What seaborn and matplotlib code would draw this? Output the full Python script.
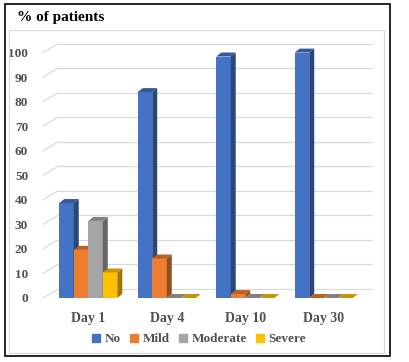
import pandas as pd
import seaborn as sns
import numpy as np
import matplotlib.pyplot as plt
from matplotlib.patches import Polygon, Rectangle
from matplotlib.lines import Line2D

# data (% of patients)
days = ["Day 1", "Day 4", "Day 10", "Day 30"]
severity = ["No", "Mild", "Moderate", "Severe"]
no_vals = [38.7, 83.9, 98.4, 100.0]
mild_vals = [19.6, 16.1, 1.6, 0.0]
moderate_vals = [31.4, 0.0, 0.0, 0.0]
severe_vals = [10.4, 0.0, 0.0, 0.0]
yticks = list(range(0, 101, 10))
colours = ["#4472C4", "#ED7D31", "#A5A5A5", "#FFC000"]

oData = pd.DataFrame({
    "day": days * 4,
    "severity": np.repeat(severity, 4),
    "pct": no_vals + mild_vals + moderate_vals + severe_vals,
})

sns.set_style("white")
plt.rcParams["font.family"] = ["Liberation Serif", "DejaVu Serif"]

fig = plt.figure(figsize=(4.10, 3.62), dpi=100, facecolor="white")
W, H = 410.0, 362.0
ax = fig.add_axes([49 / W, 64 / H, 314 / W, 245.4 / H])

sns.barplot(data=oData, x="day", y="pct", hue="severity", hue_order=severity,
            order=days, palette=colours, width=0.74, saturation=1,
            linewidth=0, ax=ax)
ax.set_xlim(-0.5, 3.5)
ax.set_ylim(0, 100)
ax.legend_.remove()


def px2data(dx, dy):
    p0 = ax.transData.transform((0, 0))
    p1 = ax.transData.inverted().transform(p0 + np.array([dx, dy]))
    return p1[0], p1[1]


# back wall grid lines (3D look)
gx, gy = px2data(9, 9)
fx, _ = px2data(-6, 0)
for v in yticks:
    ax.plot([-0.5 + gx, 3.5 + gx], [v + gy, v + gy], color="#D9D9D9",
            lw=0.9, zorder=0, clip_on=False)
    ax.plot([-0.5 + fx, -0.5 + gx], [v, v + gy], color="#D9D9D9",
            lw=0.9, zorder=0, clip_on=False)


def darker(c, f):
    r, g, b = plt.matplotlib.colors.to_rgb(c)
    return (r * f, g * f, b * f)


# side and top faces of each bar
dx, dy = px2data(5, 4)
bars = sorted([p for p in ax.patches if isinstance(p, Rectangle)],
              key=lambda p: p.get_x())
for k, p in enumerate(bars):
    x0, w, h = p.get_x(), p.get_width(), p.get_height()
    col = p.get_facecolor()
    z = 2 + k * 0.01
    p.set_zorder(z)
    p.set_clip_on(False)
    side = Polygon([(x0 + w, 0), (x0 + w + dx, dy), (x0 + w + dx, h + dy),
                    (x0 + w, h)], closed=True, fc=darker(col, 0.62),
                   ec="none", zorder=z, clip_on=False)
    top = Polygon([(x0, h), (x0 + dx, h + dy), (x0 + w + dx, h + dy),
                   (x0 + w, h)], closed=True, fc=darker(col, 0.78),
                  ec="none", zorder=z, clip_on=False)
    ax.add_patch(side)
    ax.add_patch(top)

sns.despine(ax=ax, left=True, bottom=True)
ax.set_xlabel("")
ax.set_ylabel("")
ax.set_yticks(yticks)
ax.tick_params(axis="y", length=0, pad=15, labelsize=9.5, labelcolor="#505050")
ax.tick_params(axis="x", length=0, pad=10, labelsize=10, labelcolor="#505050")
for t in ax.get_xticklabels() + ax.get_yticklabels():
    t.set_fontweight("bold")
ax.grid(False)
ax.patch.set_alpha(0)

fig.text(17 / W, 1 - 18 / H, "% of patients", fontsize=11, weight="bold",
         va="center", ha="left", color="black")

leg_handles = [Line2D([], [], marker="s", ls="none", markersize=6,
                      color=c) for c in colours]
leg = fig.legend(leg_handles, severity, loc="center", ncol=4,
                 bbox_to_anchor=(199 / W, 1 - 339 / H), frameon=False,
                 fontsize=9.5, handlelength=0.6, handletextpad=0.35,
                 columnspacing=0.7, labelcolor="#505050", borderaxespad=0)
for t in leg.get_texts():
    t.set_fontweight("bold")

# chart frames
fig.add_artist(Rectangle((9 / W, 1 - 353 / H), 375 / W, 323 / H,
                         transform=fig.transFigure, fill=False,
                         ec="#D9D9D9", lw=0.8))
fig.add_artist(Rectangle((5 / W, 1 - 356 / H), 385 / W, 352 / H,
                         transform=fig.transFigure, fill=False,
                         ec="black", lw=1.2))

fig.savefig("out.png", dpi=100, facecolor="white")
